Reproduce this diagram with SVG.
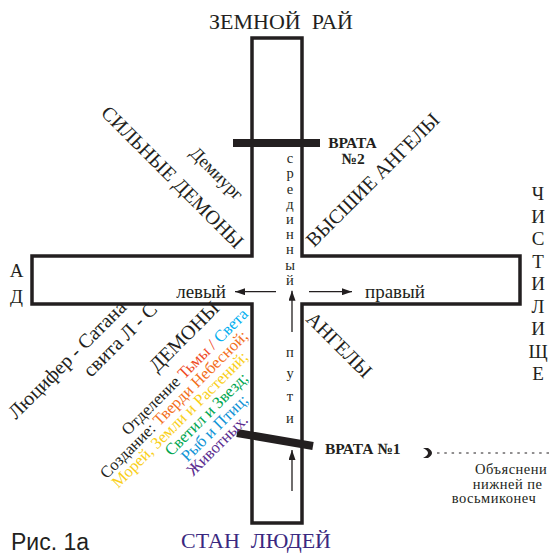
<svg xmlns="http://www.w3.org/2000/svg" width="550" height="556" viewBox="0 0 550 556">
<defs>
<style>
.t{font-family:"Liberation Serif","Times New Roman",serif;fill:#231f20}
.big{font-size:20px}
.mid{font-size:19px}
.sm{font-size:14.5px}
.col{font-size:16.5px}
.note{font-size:14.5px;letter-spacing:0.5px}
.gate{font-family:"Liberation Serif",serif;font-weight:bold;font-size:15.5px;fill:#231f20}
.ln{stroke:#231f20;stroke-width:1.3;fill:none}
</style>
<marker id="ah" markerWidth="10" markerHeight="7" refX="10" refY="3.5" orient="auto" markerUnits="userSpaceOnUse">
<path d="M0,0 L10,3.5 L0,7 z" fill="#231f20"/>
</marker>
</defs>
<rect width="550" height="556" fill="#fff"/>
<g id="cross">
<path d="M252,38 H302 V256 H520 V304 H302 V523 H252 V304 H32 V256 H252 Z" fill="none" stroke="#231f20" stroke-width="3.5"/>
</g>
<g id="gate2">
<rect x="233" y="139" width="87" height="8" fill="#231f20"/>
<text class="gate" x="352.5" y="148" text-anchor="middle">ВРАТА</text>
<text class="gate" x="353" y="164" text-anchor="middle">№2</text>
</g>
<g id="gate1">
<line x1="237" y1="433" x2="313" y2="446" stroke="#231f20" stroke-width="8"/>
<text class="gate" x="325" y="454">ВРАТА №1</text>
</g>
<g id="top-label"><text class="t" x="281" y="29" text-anchor="middle" font-size="22">ЗЕМНОЙ&#160; РАЙ</text></g>
<g id="bottom-label"><text class="t" x="256" y="548" text-anchor="middle" font-size="22" style="fill:#3a2880">СТАН&#160; ЛЮДЕЙ</text></g>
<g id="fig-label"><text x="11" y="550" font-family="Liberation Sans, Arial, sans-serif" font-size="23" fill="#231f20">Рис. 1а</text></g>
<g id="left-label"><text class="t mid" text-anchor="middle"><tspan x="16.5" y="277">А</tspan><tspan x="16.5" y="303">Д</tspan></text></g>
<g id="right-label"><text class="t mid" text-anchor="middle"><tspan x="538" y="200">Ч</tspan><tspan x="538" y="222.5">И</tspan><tspan x="538" y="245">С</tspan><tspan x="538" y="267.5">Т</tspan><tspan x="538" y="290">И</tspan><tspan x="538" y="312.5">Л</tspan><tspan x="538" y="335">И</tspan><tspan x="538" y="357.5">Щ</tspan><tspan x="538" y="380">Е</tspan></text></g>
<g id="middle-path">
<text class="t sm" text-anchor="middle"><tspan x="290" y="163">с</tspan><tspan x="290" y="178">р</tspan><tspan x="290" y="193.5">е</tspan><tspan x="290" y="209">д</tspan><tspan x="290" y="224">и</tspan><tspan x="290" y="239">н</tspan><tspan x="290" y="254">н</tspan><tspan x="290" y="269.5">ы</tspan><tspan x="290" y="285">й</tspan></text>
<text class="t sm" text-anchor="middle"><tspan x="290" y="357">п</tspan><tspan x="290" y="378">у</tspan><tspan x="290" y="401">т</tspan><tspan x="290" y="423">и</tspan></text>
</g>
<g id="lr-labels">
<text class="t mid" x="226" y="298" text-anchor="end">левый</text>
<text class="t mid" x="365" y="298">правый</text>
</g>
<g id="diag-labels">
<text class="t big" transform="translate(100,114) rotate(45)">СИЛЬНЫЕ ДЕМОНЫ</text>
<text class="t" font-size="18" transform="translate(189,154) rotate(45)">Демиург</text>
<text class="t big" transform="translate(314,248) rotate(-45)">ВЫСШИЕ АНГЕЛЫ</text>
<text class="t big" transform="translate(305,320) rotate(45)">АНГЕЛЫ</text>
<text class="t big" transform="translate(157,373) rotate(-45)">ДЕМОНЫ</text>
<text class="t big" transform="translate(16,420) rotate(-45)">Люцифер - Сатана</text>
<text class="t big" transform="translate(91,378) rotate(-45)">свита Л - С</text>
</g>
<g id="creation">
<text class="t col" text-anchor="end" transform="translate(249,315) rotate(-45)">Отделение <tspan fill="#ef4a24">Тьмы / </tspan><tspan fill="#00aeef">Света</tspan></text>
<text class="t col" text-anchor="end" transform="translate(249,337) rotate(-45)">Создание: <tspan fill="#f36f21">Тверди Небесной;</tspan></text>
<text class="t col" text-anchor="end" transform="translate(249,358) rotate(-45)" style="fill:#f9cf1a">Морей, Земли и Растений;</text>
<text class="t col" text-anchor="end" transform="translate(249,379) rotate(-45)" style="fill:#00a651">Светил и Звезд;</text>
<text class="t col" text-anchor="end" transform="translate(249,401) rotate(-45)" style="fill:#0f93d6">Рыб и Птиц;</text>
<text class="t col" text-anchor="end" transform="translate(249,421) rotate(-45)" style="fill:#5b2d90">Животных.</text>
</g>
<g id="note">
<text class="t note" x="475" y="474">Объяснени</text>
<text class="t note" x="472.7" y="488.5">нижней пе</text>
<text class="t note" x="451.7" y="503">восьмиконеч</text>
</g>
<g id="connectors">
<line class="ln" x1="276" y1="291.7" x2="235" y2="291.7" marker-end="url(#ah)"/>
<line class="ln" x1="309" y1="291.7" x2="352" y2="291.7" marker-end="url(#ah)"/>
<line class="ln" x1="292" y1="332" x2="292" y2="290.7" marker-end="url(#ah)"/>
<line class="ln" x1="292" y1="491" x2="292" y2="450" marker-end="url(#ah)"/>
<path d="M423,448 Q433,453 423,458 L428,458 Q436,453 428,448 Z" fill="#231f20"/>
<line x1="437" y1="453" x2="550" y2="453" stroke="#231f20" stroke-width="1" stroke-dasharray="2.5 4.8"/>
</g>
</svg>
